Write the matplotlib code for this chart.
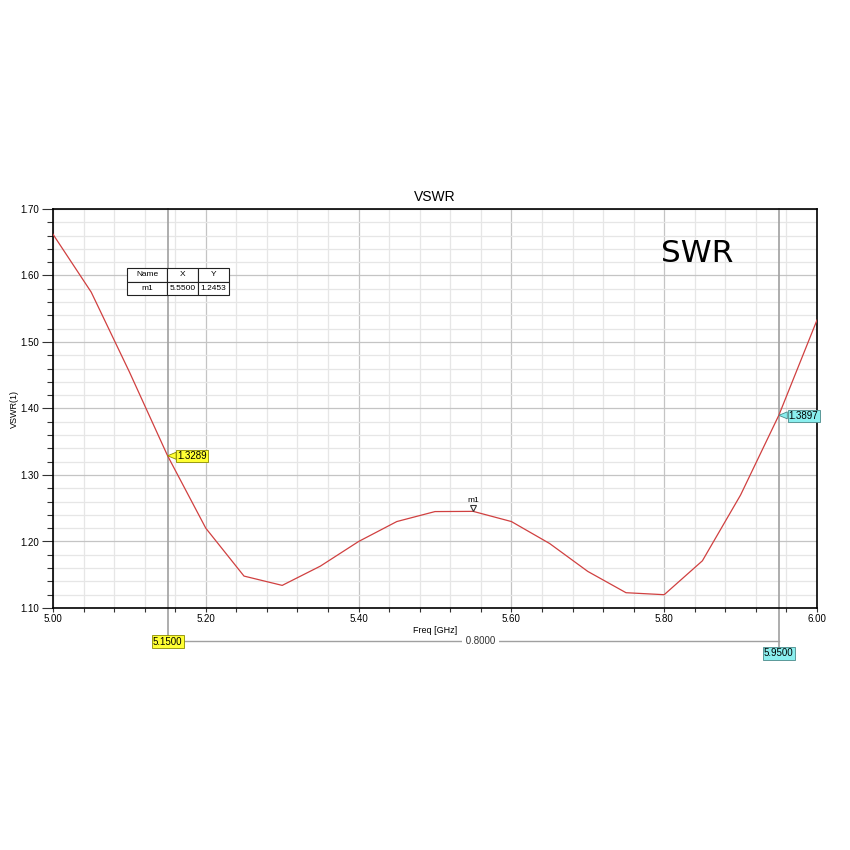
import matplotlib
matplotlib.use("Agg")
import matplotlib.pyplot as plt
from matplotlib.ticker import MultipleLocator, FormatStrFormatter
import matplotlib.transforms as mtransforms
from matplotlib.patches import Polygon

plt.rcParams['font.family'] = ['Liberation Sans', 'DejaVu Sans']

freq = [5.00, 5.05, 5.10, 5.15, 5.20, 5.25, 5.30, 5.35, 5.40, 5.45, 5.50,
        5.55, 5.60, 5.65, 5.70, 5.75, 5.80, 5.85, 5.90, 5.95, 6.00]
vswr = [1.662, 1.575, 1.455, 1.3289, 1.220, 1.148, 1.134, 1.163, 1.200, 1.230, 1.245,
        1.2453, 1.230, 1.197, 1.155, 1.123, 1.120, 1.171, 1.270, 1.3897, 1.533]

m1_x, m1_y = 5.55, 1.2453
marker_a_x, marker_a_y = 5.15, 1.3289
marker_b_x, marker_b_y = 5.95, 1.3897
delta_label = "0.8000"

YEL, YEL_EC = '#ffff33', '#8a8a00'
CYN, CYN_EC = '#8aeeee', '#4a8a8a'

fig = plt.figure(figsize=(8.5, 8.5), dpi=100)
ax = fig.add_axes([53/850, 1-608/850, (817-53)/850, (608-209)/850])

ax.plot(freq, vswr, color='#d04040', lw=0.9, zorder=3)
ax.set_xlim(5.0, 6.0)
ax.set_ylim(1.10, 1.70)

ax.xaxis.set_major_locator(MultipleLocator(0.2))
ax.xaxis.set_minor_locator(MultipleLocator(0.04))
ax.yaxis.set_major_locator(MultipleLocator(0.1))
ax.yaxis.set_minor_locator(MultipleLocator(0.02))
ax.xaxis.set_major_formatter(FormatStrFormatter('%.2f'))
ax.yaxis.set_major_formatter(FormatStrFormatter('%.2f'))

ax.grid(which='major', color='#c4c4c4', lw=0.9, zorder=0)
ax.grid(which='minor', color='#e6e6e6', lw=0.9, zorder=0)
ax.set_axisbelow(True)

ax.tick_params(axis='both', which='major', labelsize=7, width=0.8, color='#333333')
ax.tick_params(axis='y', which='major', length=8, pad=2)
ax.tick_params(axis='y', which='minor', length=4, width=0.8, color='#333333')
ax.tick_params(axis='x', which='major', length=3, pad=1.5)
ax.tick_params(axis='x', which='minor', length=3, width=0.8, color='#333333')
for sp in ax.spines.values():
    sp.set_linewidth(1.2)
    sp.set_color('black')

ax.set_title('VSWR', fontsize=10, pad=6)
ax.set_xlabel('Freq [GHz]', fontsize=6.5, labelpad=1)
ax.set_ylabel('VSWR(1)', fontsize=6.5, labelpad=1)

# SWR big label
ax.text(697/850, 1-253/850, 'SWR', transform=fig.transFigure, fontsize=22.5,
        family='DejaVu Sans', ha='center', va='center')

# marker lines
trans = mtransforms.blended_transform_factory(ax.transData, ax.transAxes)
ax.plot([marker_a_x, marker_a_x], [1.0, -0.082], transform=trans, color='#a0a0a0',
        lw=1.2, clip_on=False, zorder=2)
ax.plot([marker_b_x, marker_b_x], [1.0, -0.11], transform=trans, color='#a0a0a0',
        lw=1.2, clip_on=False, zorder=2)

# delta line
ax.plot([marker_a_x + 0.02, marker_b_x], [-0.082, -0.082], transform=trans,
        color='#a0a0a0', lw=1.0, clip_on=False)
ax.text((marker_a_x + 0.02 + marker_b_x) / 2, -0.082, ' ' + delta_label + ' ', transform=trans,
        fontsize=7, ha='center', va='center', color='#333333',
        bbox=dict(boxstyle='square,pad=0.1', fc='white', ec='none'), clip_on=False)

ax.text(marker_a_x, -0.084, f'{marker_a_x:.4f}', transform=trans, fontsize=7,
        ha='center', va='center', bbox=dict(boxstyle='square,pad=0.12', fc=YEL, ec=YEL_EC, lw=0.6),
        clip_on=False, zorder=5)
ax.text(marker_b_x, -0.114, f'{marker_b_x:.4f}', transform=trans, fontsize=7,
        ha='center', va='center', bbox=dict(boxstyle='square,pad=0.12', fc=CYN, ec=CYN_EC, lw=0.6),
        clip_on=False, zorder=5)


def value_flag(x, y, fc, ec):
    t = fig.dpi_scale_trans + mtransforms.ScaledTranslation(x, y, ax.transData)
    tri = Polygon([(0, 0), (0.085, 0.035), (0.085, -0.035)], closed=True,
                  transform=t, fc=fc, ec=ec, lw=0.6, zorder=6, clip_on=False)
    ax.add_patch(tri)
    ax.annotate(f'{y:.4f}', xy=(x, y), xytext=(7.2, -0.3), textcoords='offset points',
                fontsize=7, ha='left', va='center',
                bbox=dict(boxstyle='square,pad=0.12', fc=fc, ec=ec, lw=0.6),
                zorder=7, annotation_clip=False)


value_flag(marker_a_x, marker_a_y, YEL, YEL_EC)
value_flag(marker_b_x, marker_b_y, CYN, CYN_EC)

# m1 marker
ax.plot([m1_x], [m1_y + 0.0045], marker='v', mfc='white', mec='#333333', ms=5, mew=0.8, zorder=6)
ax.text(m1_x, m1_y + 0.011, 'm1', fontsize=6, ha='center', va='bottom')

# marker table
tbl = ax.table(cellText=[['m1', f'{m1_x:.4f}', f'{m1_y:.4f}']],
               colLabels=['Name', 'X', 'Y'],
               cellLoc='center',
               bbox=[(127-53)/764, (608-295)/399, (229-127)/764, (295-268)/399],
               colWidths=[40, 31, 31])
tbl.auto_set_font_size(False)
tbl.set_fontsize(6)
for (r, c), cell in tbl.get_celld().items():
    cell.set_linewidth(0.8)
    cell.set_edgecolor('#222222')
    cell.set_facecolor('white')
tbl.set_zorder(7)

fig.savefig('out.png', dpi=100, facecolor='white')
